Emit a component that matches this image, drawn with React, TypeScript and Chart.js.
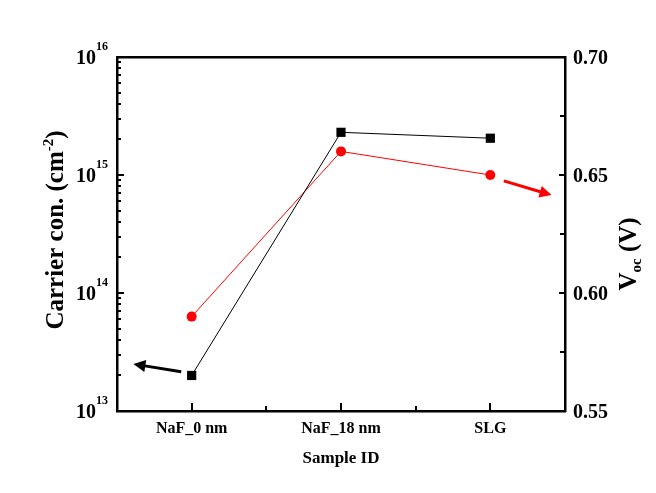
import React, { useEffect, useRef } from "react";
import { Chart, registerables } from "chart.js";

Chart.register(...registerables);

const categories = ["NaF_0 nm", "NaF_18 nm", "SLG"];
const carrierConc = [2.0e13, 2.3e15, 2.05e15];
const vocValues = [0.59, 0.66, 0.65];
const carrierExponents = [13, 14, 15, 16];
const vocTickLabels = ["0.55", "0.60", "0.65", "0.70"];
const carrierArrow = { from: [-0.07, 2.15e13], to: [-0.39, 2.5e13] };
const vocArrow = { from: [2.09, 0.6475], to: [2.41, 0.6415] };

const FONT = '"Liberation Serif", "Times New Roman", serif';

function drawArrow(ctx: CanvasRenderingContext2D, x1: number, y1: number, x2: number, y2: number, color: string) {
  const ang = Math.atan2(y2 - y1, x2 - x1);
  const headLen = 12;
  const headW = 6;
  const bx = x2 - headLen * Math.cos(ang);
  const by = y2 - headLen * Math.sin(ang);
  ctx.save();
  ctx.strokeStyle = color;
  ctx.fillStyle = color;
  ctx.lineWidth = 3;
  ctx.beginPath();
  ctx.moveTo(x1, y1);
  ctx.lineTo(bx + Math.cos(ang) * 2, by + Math.sin(ang) * 2);
  ctx.stroke();
  ctx.beginPath();
  ctx.moveTo(x2, y2);
  ctx.lineTo(bx - headW * Math.sin(ang), by + headW * Math.cos(ang));
  ctx.lineTo(bx + headW * Math.sin(ang), by - headW * Math.cos(ang));
  ctx.closePath();
  ctx.fill();
  ctx.restore();
}

const decorPlugin = {
  id: "decor",
  afterDraw(chart: any) {
    const ctx: CanvasRenderingContext2D = chart.ctx;
    const { left, right, top, bottom } = chart.chartArea;
    const xs = chart.scales.x;
    const ys = chart.scales.y;
    const y1s = chart.scales.y1;
    ctx.save();
    ctx.strokeStyle = "#000";
    ctx.lineWidth = 2;
    // left log ticks (inward)
    for (let e = 13; e <= 15; e++) {
      for (let m = 1; m <= 9; m++) {
        const v = m * Math.pow(10, e);
        const y = Math.round(ys.getPixelForValue(v)) + 0.0;
        const len = m === 1 ? 7 : 4;
        ctx.beginPath();
        ctx.moveTo(left, y);
        ctx.lineTo(left + len, y);
        ctx.stroke();
      }
    }
    // right linear ticks (inward)
    for (let i = 0; i <= 6; i++) {
      const v = 0.55 + i * 0.025;
      const y = Math.round(y1s.getPixelForValue(v));
      const len = i % 2 === 0 ? 6 : 5;
      ctx.beginPath();
      ctx.moveTo(right, y);
      ctx.lineTo(right - len, y);
      ctx.stroke();
    }
    // bottom ticks (inward)
    for (let i = 0; i <= 4; i++) {
      const v = i * 0.5;
      const x = Math.round(xs.getPixelForValue(v));
      const len = i % 2 === 0 ? 8 : 5;
      ctx.beginPath();
      ctx.moveTo(x, bottom);
      ctx.lineTo(x, bottom - len);
      ctx.stroke();
    }

    ctx.fillStyle = "#000";
    // left tick labels 10^n
    carrierExponents.forEach((e) => {
      const y = ys.getPixelForValue(Math.pow(10, e));
      ctx.font = `bold 20px ${FONT}`;
      const w = ctx.measureText("10").width;
      ctx.font = `bold 12px ${FONT}`;
      const ws = ctx.measureText(String(e)).width;
      const x0 = left - 9 - ws - w;
      ctx.textAlign = "left";
      ctx.textBaseline = "alphabetic";
      ctx.font = `bold 20px ${FONT}`;
      ctx.fillText("10", x0, y + 6.5);
      ctx.font = `bold 12px ${FONT}`;
      ctx.fillText(String(e), x0 + w, y - 7);
    });
    // right tick labels
    vocTickLabels.forEach((t) => {
      const y = y1s.getPixelForValue(parseFloat(t));
      ctx.font = `bold 20px ${FONT}`;
      ctx.textAlign = "left";
      ctx.textBaseline = "alphabetic";
      ctx.fillText(t, right + 8, y + 6.5);
    });
    // category labels
    ctx.font = `bold 16px ${FONT}`;
    ctx.textAlign = "center";
    categories.forEach((c, i) => {
      ctx.fillText(c, xs.getPixelForValue(i), bottom + 22);
    });
    // x title
    ctx.font = `bold 17px ${FONT}`;
    ctx.fillText("Sample ID", (left + right) / 2, bottom + 52);

    // left title (rotated)
    ctx.save();
    ctx.translate(63, (top + bottom) / 2 - 4);
    ctx.rotate(-Math.PI / 2);
    ctx.textAlign = "left";
    ctx.textBaseline = "alphabetic";
    const mainT = "Carrier con. (cm";
    const supT = "-2";
    const endT = ")";
    ctx.font = `bold 25px ${FONT}`;
    const wm = ctx.measureText(mainT).width;
    const we = ctx.measureText(endT).width;
    ctx.font = `bold 15px ${FONT}`;
    const wsup = ctx.measureText(supT).width;
    let sx = -(wm + wsup + we) / 2;
    ctx.font = `bold 25px ${FONT}`;
    ctx.fillText(mainT, sx, 0);
    sx += wm;
    ctx.font = `bold 15px ${FONT}`;
    ctx.fillText(supT, sx, -10);
    sx += wsup;
    ctx.font = `bold 25px ${FONT}`;
    ctx.fillText(endT, sx, 0);
    ctx.restore();

    // right title (rotated)
    ctx.save();
    ctx.translate(636, 254);
    ctx.rotate(-Math.PI / 2);
    ctx.textAlign = "left";
    ctx.textBaseline = "alphabetic";
    const vT = "V";
    const subT = "oc";
    const restT = " (V)";
    ctx.font = `bold 25px ${FONT}`;
    const wv = ctx.measureText(vT).width;
    const wr = ctx.measureText(restT).width;
    ctx.font = `bold 15px ${FONT}`;
    const wsub = ctx.measureText(subT).width;
    let rx = -(wv + wsub + wr) / 2;
    ctx.font = `bold 25px ${FONT}`;
    ctx.fillText(vT, rx, 0);
    rx += wv;
    ctx.font = `bold 15px ${FONT}`;
    ctx.fillText(subT, rx, 5);
    rx += wsub;
    ctx.font = `bold 25px ${FONT}`;
    ctx.fillText(restT, rx, 0);
    ctx.restore();

    // arrows
    drawArrow(
      ctx,
      xs.getPixelForValue(carrierArrow.from[0]),
      ys.getPixelForValue(carrierArrow.from[1]),
      xs.getPixelForValue(carrierArrow.to[0]),
      ys.getPixelForValue(carrierArrow.to[1]),
      "#000"
    );
    drawArrow(
      ctx,
      xs.getPixelForValue(vocArrow.from[0]),
      y1s.getPixelForValue(vocArrow.from[1]),
      xs.getPixelForValue(vocArrow.to[0]),
      y1s.getPixelForValue(vocArrow.to[1]),
      "#ff0000"
    );
    ctx.restore();
  },
};

export default function App() {
  const ref = useRef<HTMLCanvasElement | null>(null);
  useEffect(() => {
    if (!ref.current) return;
    const borderOnly = {
      display: true,
      ticks: { display: false },
      grid: { display: false, drawTicks: false, drawOnChartArea: false },
      border: { display: true, width: 2.5, color: "#000" },
    };
    const chart = new Chart(ref.current, {
      type: "scatter",
      data: {
        datasets: [
          {
            label: "Carrier con.",
            data: categories.map((_, i) => ({ x: i, y: carrierConc[i] })),
            xAxisID: "x",
            yAxisID: "y",
            showLine: true,
            borderColor: "#000",
            borderWidth: 1,
            backgroundColor: "#000",
            pointStyle: "rect",
            pointRadius: 6.5,
            pointBorderWidth: 0,
            pointBorderColor: "#000",
          },
          {
            label: "Voc",
            data: categories.map((_, i) => ({ x: i, y: vocValues[i] })),
            xAxisID: "x",
            yAxisID: "y1",
            showLine: true,
            borderColor: "#ff0000",
            borderWidth: 1,
            backgroundColor: "#ff0000",
            pointStyle: "circle",
            pointRadius: 5,
            pointBorderWidth: 0,
            pointBorderColor: "#ff0000",
          },
        ],
      },
      options: {
        responsive: false,
        animation: false,
        events: [],
        layout: { padding: { left: 117, right: 91, top: 57, bottom: 82 } },
        plugins: { legend: { display: false }, tooltip: { enabled: false } },
        scales: {
          x: { type: "linear", position: "bottom", min: -0.5, max: 2.5, ...borderOnly },
          x2: { type: "linear", position: "top", min: -0.5, max: 2.5, ...borderOnly },
          y: { type: "logarithmic", position: "left", min: 1e13, max: 1e16, ...borderOnly },
          y1: { type: "linear", position: "right", min: 0.55, max: 0.7, ...borderOnly },
        },
      } as any,
      plugins: [decorPlugin],
    });
    return () => chart.destroy();
  }, []);
  return (
    <div style={{ position: "absolute", left: 0, top: 0, width: 656, height: 493, background: "#fff" }}>
      <canvas ref={ref} width={656} height={493} style={{ width: 656, height: 493 }} />
    </div>
  );
}
